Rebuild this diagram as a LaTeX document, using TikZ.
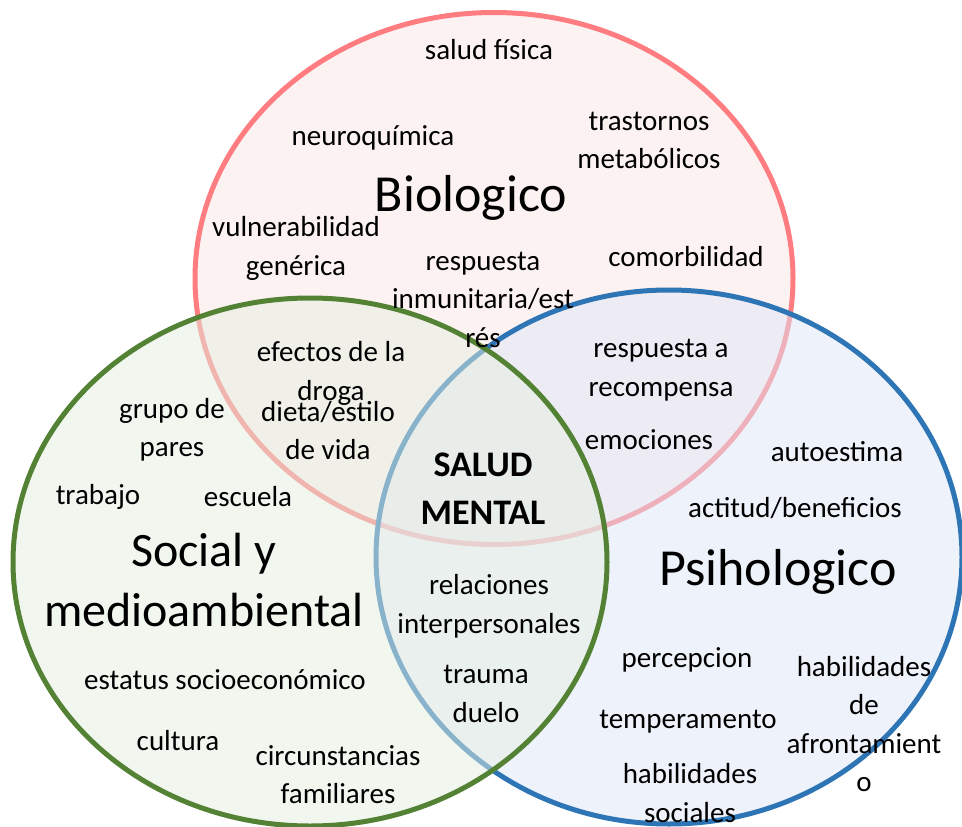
\documentclass[tikz,border=0pt]{standalone}
\usepackage{fontspec}
\setmainfont{Carlito}
\definecolor{redline}{HTML}{FF7C80}
\definecolor{redfill}{RGB}{253,231,231}
\definecolor{greenline}{HTML}{548235}
\definecolor{greenfill}{RGB}{229,239,225}
\definecolor{blueline}{HTML}{2E75B6}
\definecolor{bluefill}{RGB}{223,231,247}
\tikzset{
  setcircle/.style={line width=5pt, fill opacity=0.5},
  lbl/.style={font=\fontsize{29}{38.5}\selectfont, align=center, inner sep=0pt, text=black},
  biglbl/.style={font=\fontsize{52}{60}\selectfont, align=center, inner sep=0pt, text=black},
  midlbl/.style={font=\fontsize{48}{60}\selectfont, align=center, inner sep=0pt, text=black},
  corelbl/.style={font=\bfseries\fontsize{36}{48}\selectfont, align=center, inner sep=0pt, text=black}
}
\begin{document}
\begin{tikzpicture}[x=1pt,y=-1pt]
\useasboundingbox (0,0) rectangle (962,827);
\fill[white] (0,0) rectangle (962,827);
% Biologico (bottom layer)
\path[setcircle, draw=redline, fill=redfill] (494,278.5) ellipse [x radius=299pt, y radius=266pt];
% Psihologico
\path[setcircle, draw=blueline, fill=bluefill] (669,557) ellipse [x radius=293pt, y radius=267pt];
% Social (top layer)
\path[setcircle, draw=greenline, fill=greenfill] (310,562) ellipse [x radius=297pt, y radius=264pt];

% Biologico
\node[lbl] (saludf) at (489,50) {salud física};
\node[lbl] (neuro) at (373,138) {neuroquímica};
\node[lbl] (trast) at (649,140.5) {trastornos\\metabólicos};
\node[biglbl] (bio) at (471,198) {Biologico};
\node[lbl] (vuln) at (296,248.5) {vulnerabilidad\\genérica};
\node[lbl] (inmun) at (483,299.5) {respuesta\\inmunitaria/est\\rés};
\node[lbl] (comor) at (686,257) {comorbilidad};
% Biologico & Social
\node[lbl] (efect) at (331,373.5) {efectos de la\\droga};
\node[lbl] (dieta) at (328,430.5) {dieta/estilo\\de vida};
% Social
\node[lbl] (grupo) at (172,430) {grupo de\\pares};
\node[lbl] (trab) at (98,497) {trabajo};
\node[lbl] (escu) at (248,497) {escuela};
\node[midlbl] (social) at (204,580) {Social y\\medioambiental};
\node[lbl] (estat) at (225,680) {estatus socioeconómico};
\node[lbl] (cult) at (178,741) {cultura};
\node[lbl] (circ) at (338,774.5) {circunstancias\\familiares};
% centre
\node[corelbl] (salud) at (483,489) {SALUD\\MENTAL};
% Social & Psihologico
\node[lbl] (relac) at (489,606.5) {relaciones\\interpersonales};
\node[lbl] (trauma) at (486,694) {trauma\\duelo};
% Biologico & Psihologico
\node[lbl] (recomp) at (661,370) {respuesta a\\recompensa};
\node[lbl] (emoc) at (649,440) {emociones};
% Psihologico
\node[lbl] (autoe) at (837,452) {autoestima};
\node[lbl] (actit) at (795,508) {actitud/beneficios};
\node[biglbl] (psi) at (778,572) {Psihologico};
\node[lbl] (perc) at (687,660) {percepcion};
\node[lbl] (temp) at (688,722) {temperamento};
\node[lbl] (habsoc) at (690,793) {habilidades\\sociales};
\node[lbl] (habafr) at (864,724) {habilidades\\de\\afrontamient\\o};
\end{tikzpicture}
\end{document}
